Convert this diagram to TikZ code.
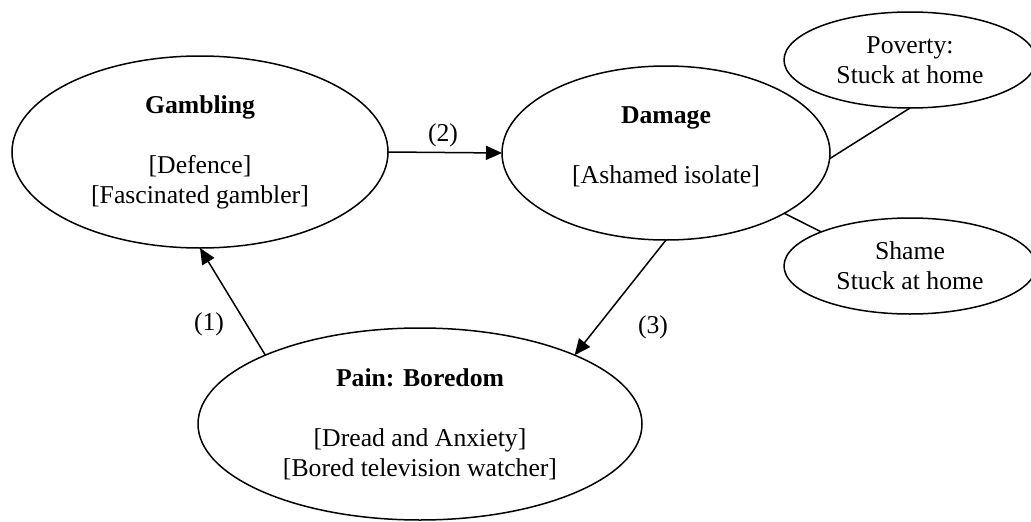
\documentclass[tikz,border=0pt]{standalone}
\usepackage{fontspec}
\setmainfont{Liberation Serif}
\usepackage{tikz}
\usetikzlibrary{shapes.geometric,arrows.meta}
\tikzset{every picture/.style={line width=1.5pt}}
\tikzset{
  bubble/.style={ellipse, draw, inner sep=0pt, outer sep=0pt, align=center, font=\fontsize{25.7}{30}\selectfont},
  flow/.style={-{Triangle[length=16pt,width=14pt]}},
  num/.style={inner sep=0pt, font=\fontsize{25.7}{30}\selectfont}
}

\begin{document}
\begin{tikzpicture}[x=1pt,y=1pt,yscale=-1,xscale=1]
\useasboundingbox (0,0) rectangle (1031,522);
% cycle
\draw (200,152) node [bubble, minimum width=376pt, minimum height=192pt] (gambling) {\textbf{Gambling}\\ \\ {[Defence]}\\ {[Fascinated gambler]}};
\draw (666,153) node [bubble, minimum width=328pt, minimum height=174pt] (damage) {\textbf{Damage}\\ \\ {[Ashamed isolate]}\\[-14pt]\mbox{}};
\draw (420,424) node [bubble, minimum width=444pt, minimum height=192pt] (pain) {\textbf{Pain: Boredom}\\ \\ {[Dread and Anxiety]}\\ {[Bored television watcher]}};
% side effects
\draw (910,60) node [bubble, minimum width=252pt, minimum height=96pt] (poverty) {Poverty:\\ Stuck at home};
\draw (910,266) node [bubble, minimum width=252pt, minimum height=96pt] (shame) {Shame\\ Stuck at home};
% connectors
\draw [flow] (gambling.east) -- (damage.west);
\draw [flow] (damage.south) -- (pain.24);
\draw [flow] (pain.156) -- (gambling.south);
\draw (damage.-2) -- (poverty.south);
\draw (damage.-27) -- (shame.159);
% labels
\draw (443,135) node [num] (lbltwo) {(2)};
\draw (209,324) node [num] (lblone) {(1)};
\draw (653,327) node [num] (lblthree) {(3)};
\end{tikzpicture}
\end{document}
